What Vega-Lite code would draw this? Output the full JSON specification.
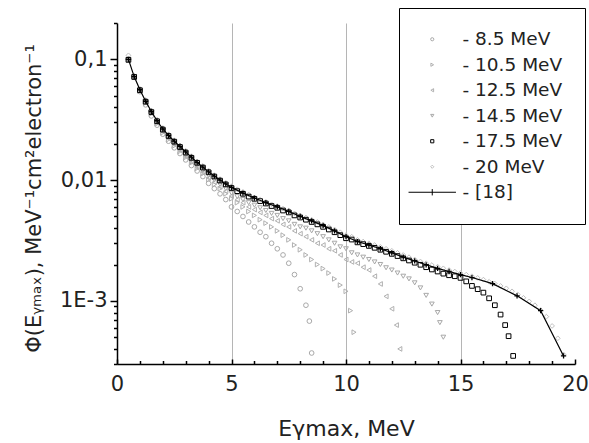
{
"$schema":"https://vega.github.io/schema/vega-lite/v6.json",
"width":458,"height":341,
"autosize":{"type":"none"},
"padding":{"left":117,"top":23,"right":14,"bottom":79},
"background":"white",
"config":{"view":{"stroke":null}},
"data":{"values":[
{"s":"- 8.5 MeV","x":0.5,"y":0.1},{"s":"- 8.5 MeV","x":0.75,"y":0.071},{"s":"- 8.5 MeV","x":1.0,"y":0.054},{"s":"- 8.5 MeV","x":1.25,"y":0.042},{"s":"- 8.5 MeV","x":1.5,"y":0.034},{"s":"- 8.5 MeV","x":1.75,"y":0.0285},{"s":"- 8.5 MeV","x":2.0,"y":0.024},{"s":"- 8.5 MeV","x":2.25,"y":0.021},{"s":"- 8.5 MeV","x":2.5,"y":0.0185},{"s":"- 8.5 MeV","x":2.75,"y":0.0166},{"s":"- 8.5 MeV","x":3.0,"y":0.0147},{"s":"- 8.5 MeV","x":3.25,"y":0.0132},{"s":"- 8.5 MeV","x":3.5,"y":0.0119},{"s":"- 8.5 MeV","x":3.75,"y":0.0107},{"s":"- 8.5 MeV","x":4.0,"y":0.0094},{"s":"- 8.5 MeV","x":4.25,"y":0.0085},{"s":"- 8.5 MeV","x":4.5,"y":0.0077},{"s":"- 8.5 MeV","x":4.75,"y":0.0069},{"s":"- 8.5 MeV","x":5.0,"y":0.006},{"s":"- 8.5 MeV","x":5.25,"y":0.0055},{"s":"- 8.5 MeV","x":5.5,"y":0.005},{"s":"- 8.5 MeV","x":5.75,"y":0.0045},{"s":"- 8.5 MeV","x":6.0,"y":0.0041},{"s":"- 8.5 MeV","x":6.25,"y":0.0037},{"s":"- 8.5 MeV","x":6.5,"y":0.0034},{"s":"- 8.5 MeV","x":6.75,"y":0.003},{"s":"- 8.5 MeV","x":7.0,"y":0.0027},{"s":"- 8.5 MeV","x":7.25,"y":0.0024},{"s":"- 8.5 MeV","x":7.5,"y":0.00205},{"s":"- 8.5 MeV","x":7.75,"y":0.00165},{"s":"- 8.5 MeV","x":8.0,"y":0.00126},{"s":"- 8.5 MeV","x":8.25,"y":0.00092},{"s":"- 8.5 MeV","x":8.4,"y":0.00068},{"s":"- 8.5 MeV","x":8.5,"y":0.00037},
{"s":"- 10.5 MeV","x":0.5,"y":0.1},{"s":"- 10.5 MeV","x":0.75,"y":0.0715},{"s":"- 10.5 MeV","x":1.0,"y":0.0545},{"s":"- 10.5 MeV","x":1.25,"y":0.0435},{"s":"- 10.5 MeV","x":1.5,"y":0.0354},{"s":"- 10.5 MeV","x":1.75,"y":0.0293},{"s":"- 10.5 MeV","x":2.0,"y":0.0247},{"s":"- 10.5 MeV","x":2.25,"y":0.0217},{"s":"- 10.5 MeV","x":2.5,"y":0.0192},{"s":"- 10.5 MeV","x":2.75,"y":0.0173},{"s":"- 10.5 MeV","x":3.0,"y":0.0154},{"s":"- 10.5 MeV","x":3.25,"y":0.0139},{"s":"- 10.5 MeV","x":3.5,"y":0.0125},{"s":"- 10.5 MeV","x":3.75,"y":0.0113},{"s":"- 10.5 MeV","x":4.0,"y":0.0101},{"s":"- 10.5 MeV","x":4.25,"y":0.0092},{"s":"- 10.5 MeV","x":4.5,"y":0.0085},{"s":"- 10.5 MeV","x":4.75,"y":0.0077},{"s":"- 10.5 MeV","x":5.0,"y":0.007},{"s":"- 10.5 MeV","x":5.25,"y":0.0065},{"s":"- 10.5 MeV","x":5.5,"y":0.006},{"s":"- 10.5 MeV","x":5.75,"y":0.0055},{"s":"- 10.5 MeV","x":6.0,"y":0.0051},{"s":"- 10.5 MeV","x":6.25,"y":0.0047},{"s":"- 10.5 MeV","x":6.5,"y":0.0044},{"s":"- 10.5 MeV","x":6.75,"y":0.0041},{"s":"- 10.5 MeV","x":7.0,"y":0.0038},{"s":"- 10.5 MeV","x":7.25,"y":0.0035},{"s":"- 10.5 MeV","x":7.5,"y":0.0032},{"s":"- 10.5 MeV","x":7.75,"y":0.0029},{"s":"- 10.5 MeV","x":8.0,"y":0.00265},{"s":"- 10.5 MeV","x":8.25,"y":0.0024},{"s":"- 10.5 MeV","x":8.5,"y":0.0022},{"s":"- 10.5 MeV","x":8.75,"y":0.002},{"s":"- 10.5 MeV","x":9.0,"y":0.00185},{"s":"- 10.5 MeV","x":9.25,"y":0.0017},{"s":"- 10.5 MeV","x":9.5,"y":0.00152},{"s":"- 10.5 MeV","x":9.75,"y":0.00135},{"s":"- 10.5 MeV","x":10.0,"y":0.0012},{"s":"- 10.5 MeV","x":10.2,"y":0.00083},{"s":"- 10.5 MeV","x":10.35,"y":0.00055},
{"s":"- 12.5 MeV","x":0.5,"y":0.1},{"s":"- 12.5 MeV","x":0.75,"y":0.0718},{"s":"- 12.5 MeV","x":1.0,"y":0.0549},{"s":"- 12.5 MeV","x":1.25,"y":0.0439},{"s":"- 12.5 MeV","x":1.5,"y":0.0358},{"s":"- 12.5 MeV","x":1.75,"y":0.0298},{"s":"- 12.5 MeV","x":2.0,"y":0.0252},{"s":"- 12.5 MeV","x":2.25,"y":0.0222},{"s":"- 12.5 MeV","x":2.5,"y":0.0197},{"s":"- 12.5 MeV","x":2.75,"y":0.0177},{"s":"- 12.5 MeV","x":3.0,"y":0.0157},{"s":"- 12.5 MeV","x":3.25,"y":0.0142},{"s":"- 12.5 MeV","x":3.5,"y":0.0128},{"s":"- 12.5 MeV","x":3.75,"y":0.0116},{"s":"- 12.5 MeV","x":4.0,"y":0.0104},{"s":"- 12.5 MeV","x":4.25,"y":0.0096},{"s":"- 12.5 MeV","x":4.5,"y":0.0088},{"s":"- 12.5 MeV","x":4.75,"y":0.0081},{"s":"- 12.5 MeV","x":5.0,"y":0.0074},{"s":"- 12.5 MeV","x":5.25,"y":0.0069},{"s":"- 12.5 MeV","x":5.5,"y":0.0065},{"s":"- 12.5 MeV","x":5.75,"y":0.006},{"s":"- 12.5 MeV","x":6.0,"y":0.0057},{"s":"- 12.5 MeV","x":6.25,"y":0.0054},{"s":"- 12.5 MeV","x":6.5,"y":0.0051},{"s":"- 12.5 MeV","x":6.75,"y":0.0048},{"s":"- 12.5 MeV","x":7.0,"y":0.0046},{"s":"- 12.5 MeV","x":7.25,"y":0.0043},{"s":"- 12.5 MeV","x":7.5,"y":0.0041},{"s":"- 12.5 MeV","x":7.75,"y":0.0038},{"s":"- 12.5 MeV","x":8.0,"y":0.0036},{"s":"- 12.5 MeV","x":8.25,"y":0.0034},{"s":"- 12.5 MeV","x":8.5,"y":0.0032},{"s":"- 12.5 MeV","x":8.75,"y":0.003},{"s":"- 12.5 MeV","x":9.0,"y":0.0029},{"s":"- 12.5 MeV","x":9.25,"y":0.0027},{"s":"- 12.5 MeV","x":9.5,"y":0.0026},{"s":"- 12.5 MeV","x":9.75,"y":0.0024},{"s":"- 12.5 MeV","x":10.0,"y":0.0022},{"s":"- 12.5 MeV","x":10.25,"y":0.0021},{"s":"- 12.5 MeV","x":10.5,"y":0.00205},{"s":"- 12.5 MeV","x":10.75,"y":0.0019},{"s":"- 12.5 MeV","x":11.0,"y":0.0018},{"s":"- 12.5 MeV","x":11.25,"y":0.0016},{"s":"- 12.5 MeV","x":11.5,"y":0.00138},{"s":"- 12.5 MeV","x":11.75,"y":0.00109},{"s":"- 12.5 MeV","x":12.0,"y":0.00086},{"s":"- 12.5 MeV","x":12.2,"y":0.00063},{"s":"- 12.5 MeV","x":12.35,"y":0.0004},
{"s":"- 14.5 MeV","x":0.5,"y":0.1},{"s":"- 14.5 MeV","x":0.75,"y":0.072},{"s":"- 14.5 MeV","x":1.0,"y":0.0554},{"s":"- 14.5 MeV","x":1.25,"y":0.0444},{"s":"- 14.5 MeV","x":1.5,"y":0.0363},{"s":"- 14.5 MeV","x":1.75,"y":0.0302},{"s":"- 14.5 MeV","x":2.0,"y":0.0257},{"s":"- 14.5 MeV","x":2.25,"y":0.0227},{"s":"- 14.5 MeV","x":2.5,"y":0.0202},{"s":"- 14.5 MeV","x":2.75,"y":0.0182},{"s":"- 14.5 MeV","x":3.0,"y":0.0162},{"s":"- 14.5 MeV","x":3.25,"y":0.0147},{"s":"- 14.5 MeV","x":3.5,"y":0.0132},{"s":"- 14.5 MeV","x":3.75,"y":0.012},{"s":"- 14.5 MeV","x":4.0,"y":0.0109},{"s":"- 14.5 MeV","x":4.25,"y":0.01},{"s":"- 14.5 MeV","x":4.5,"y":0.0092},{"s":"- 14.5 MeV","x":4.75,"y":0.0085},{"s":"- 14.5 MeV","x":5.0,"y":0.0078},{"s":"- 14.5 MeV","x":5.25,"y":0.0073},{"s":"- 14.5 MeV","x":5.5,"y":0.0069},{"s":"- 14.5 MeV","x":5.75,"y":0.0065},{"s":"- 14.5 MeV","x":6.0,"y":0.0062},{"s":"- 14.5 MeV","x":6.25,"y":0.0059},{"s":"- 14.5 MeV","x":6.5,"y":0.0056},{"s":"- 14.5 MeV","x":6.75,"y":0.0053},{"s":"- 14.5 MeV","x":7.0,"y":0.0051},{"s":"- 14.5 MeV","x":7.25,"y":0.0048},{"s":"- 14.5 MeV","x":7.5,"y":0.0046},{"s":"- 14.5 MeV","x":7.75,"y":0.0043},{"s":"- 14.5 MeV","x":8.0,"y":0.0041},{"s":"- 14.5 MeV","x":8.25,"y":0.004},{"s":"- 14.5 MeV","x":8.5,"y":0.0038},{"s":"- 14.5 MeV","x":8.75,"y":0.0036},{"s":"- 14.5 MeV","x":9.0,"y":0.0034},{"s":"- 14.5 MeV","x":9.25,"y":0.0032},{"s":"- 14.5 MeV","x":9.5,"y":0.003},{"s":"- 14.5 MeV","x":9.75,"y":0.0028},{"s":"- 14.5 MeV","x":10.0,"y":0.0027},{"s":"- 14.5 MeV","x":10.25,"y":0.0025},{"s":"- 14.5 MeV","x":10.5,"y":0.0024},{"s":"- 14.5 MeV","x":10.75,"y":0.0023},{"s":"- 14.5 MeV","x":11.0,"y":0.0022},{"s":"- 14.5 MeV","x":11.25,"y":0.0021},{"s":"- 14.5 MeV","x":11.5,"y":0.002},{"s":"- 14.5 MeV","x":11.75,"y":0.00188},{"s":"- 14.5 MeV","x":12.0,"y":0.0018},{"s":"- 14.5 MeV","x":12.25,"y":0.0017},{"s":"- 14.5 MeV","x":12.5,"y":0.0016},{"s":"- 14.5 MeV","x":12.75,"y":0.00152},{"s":"- 14.5 MeV","x":13.0,"y":0.00141},{"s":"- 14.5 MeV","x":13.25,"y":0.00128},{"s":"- 14.5 MeV","x":13.5,"y":0.00111},{"s":"- 14.5 MeV","x":13.75,"y":0.00094},{"s":"- 14.5 MeV","x":14.0,"y":0.0008},{"s":"- 14.5 MeV","x":14.1,"y":0.00066},{"s":"- 14.5 MeV","x":14.25,"y":0.0005},
{"s":"- 20 MeV","x":0.5,"y":0.108},{"s":"- 20 MeV","x":0.75,"y":0.0735},{"s":"- 20 MeV","x":1.0,"y":0.057},{"s":"- 20 MeV","x":1.25,"y":0.046},{"s":"- 20 MeV","x":1.5,"y":0.0378},{"s":"- 20 MeV","x":1.75,"y":0.0317},{"s":"- 20 MeV","x":2.0,"y":0.027},{"s":"- 20 MeV","x":2.25,"y":0.024},{"s":"- 20 MeV","x":2.5,"y":0.0214},{"s":"- 20 MeV","x":2.75,"y":0.0194},{"s":"- 20 MeV","x":3.0,"y":0.0175},{"s":"- 20 MeV","x":3.25,"y":0.0158},{"s":"- 20 MeV","x":3.5,"y":0.0143},{"s":"- 20 MeV","x":3.75,"y":0.0131},{"s":"- 20 MeV","x":4.0,"y":0.012},{"s":"- 20 MeV","x":4.25,"y":0.011},{"s":"- 20 MeV","x":4.5,"y":0.0102},{"s":"- 20 MeV","x":4.75,"y":0.0095},{"s":"- 20 MeV","x":5.0,"y":0.0089},{"s":"- 20 MeV","x":5.25,"y":0.0084},{"s":"- 20 MeV","x":5.5,"y":0.008},{"s":"- 20 MeV","x":5.75,"y":0.0076},{"s":"- 20 MeV","x":6.0,"y":0.0072},{"s":"- 20 MeV","x":6.25,"y":0.0069},{"s":"- 20 MeV","x":6.5,"y":0.0066},{"s":"- 20 MeV","x":6.75,"y":0.0063},{"s":"- 20 MeV","x":7.0,"y":0.0061},{"s":"- 20 MeV","x":7.25,"y":0.0058},{"s":"- 20 MeV","x":7.5,"y":0.0056},{"s":"- 20 MeV","x":7.75,"y":0.0053},{"s":"- 20 MeV","x":8.0,"y":0.0051},{"s":"- 20 MeV","x":8.25,"y":0.0049},{"s":"- 20 MeV","x":8.5,"y":0.0047},{"s":"- 20 MeV","x":8.75,"y":0.0045},{"s":"- 20 MeV","x":9.0,"y":0.0043},{"s":"- 20 MeV","x":9.25,"y":0.0041},{"s":"- 20 MeV","x":9.5,"y":0.0039},{"s":"- 20 MeV","x":9.75,"y":0.0037},{"s":"- 20 MeV","x":10.0,"y":0.0035},{"s":"- 20 MeV","x":10.25,"y":0.0034},{"s":"- 20 MeV","x":10.5,"y":0.0032},{"s":"- 20 MeV","x":10.75,"y":0.0031},{"s":"- 20 MeV","x":11.0,"y":0.003},{"s":"- 20 MeV","x":11.25,"y":0.0029},{"s":"- 20 MeV","x":11.5,"y":0.0028},{"s":"- 20 MeV","x":11.75,"y":0.0027},{"s":"- 20 MeV","x":12.0,"y":0.0026},{"s":"- 20 MeV","x":12.25,"y":0.0025},{"s":"- 20 MeV","x":12.5,"y":0.0024},{"s":"- 20 MeV","x":12.75,"y":0.0023},{"s":"- 20 MeV","x":13.0,"y":0.0022},{"s":"- 20 MeV","x":13.25,"y":0.00212},{"s":"- 20 MeV","x":13.5,"y":0.00205},{"s":"- 20 MeV","x":13.75,"y":0.00198},{"s":"- 20 MeV","x":14.0,"y":0.00192},{"s":"- 20 MeV","x":14.25,"y":0.00186},{"s":"- 20 MeV","x":14.5,"y":0.0018},{"s":"- 20 MeV","x":14.75,"y":0.00175},{"s":"- 20 MeV","x":15.0,"y":0.0017},{"s":"- 20 MeV","x":15.25,"y":0.00165},{"s":"- 20 MeV","x":15.5,"y":0.0016},{"s":"- 20 MeV","x":15.75,"y":0.00155},{"s":"- 20 MeV","x":16.0,"y":0.0015},{"s":"- 20 MeV","x":16.25,"y":0.00144},{"s":"- 20 MeV","x":16.5,"y":0.00139},{"s":"- 20 MeV","x":16.75,"y":0.00133},{"s":"- 20 MeV","x":17.0,"y":0.00127},{"s":"- 20 MeV","x":17.25,"y":0.0012},{"s":"- 20 MeV","x":17.5,"y":0.00113},{"s":"- 20 MeV","x":17.75,"y":0.00106},{"s":"- 20 MeV","x":18.0,"y":0.00099},{"s":"- 20 MeV","x":18.25,"y":0.00092},{"s":"- 20 MeV","x":18.5,"y":0.00084},{"s":"- 20 MeV","x":18.75,"y":0.00074},{"s":"- 20 MeV","x":19.0,"y":0.00062},{"s":"- 20 MeV","x":19.25,"y":0.00049},{"s":"- 20 MeV","x":19.5,"y":0.00036},
{"s":"- 17.5 MeV","x":0.5,"y":0.099},{"s":"- 17.5 MeV","x":0.75,"y":0.0715},{"s":"- 17.5 MeV","x":1.0,"y":0.0555},{"s":"- 17.5 MeV","x":1.25,"y":0.0446},{"s":"- 17.5 MeV","x":1.5,"y":0.0366},{"s":"- 17.5 MeV","x":1.75,"y":0.0307},{"s":"- 17.5 MeV","x":2.0,"y":0.0262},{"s":"- 17.5 MeV","x":2.25,"y":0.0232},{"s":"- 17.5 MeV","x":2.5,"y":0.0208},{"s":"- 17.5 MeV","x":2.75,"y":0.0188},{"s":"- 17.5 MeV","x":3.0,"y":0.0169},{"s":"- 17.5 MeV","x":3.25,"y":0.0153},{"s":"- 17.5 MeV","x":3.5,"y":0.0139},{"s":"- 17.5 MeV","x":3.75,"y":0.0127},{"s":"- 17.5 MeV","x":4.0,"y":0.0116},{"s":"- 17.5 MeV","x":4.25,"y":0.0107},{"s":"- 17.5 MeV","x":4.5,"y":0.0099},{"s":"- 17.5 MeV","x":4.75,"y":0.0092},{"s":"- 17.5 MeV","x":5.0,"y":0.0086},{"s":"- 17.5 MeV","x":5.25,"y":0.0081},{"s":"- 17.5 MeV","x":5.5,"y":0.0077},{"s":"- 17.5 MeV","x":5.75,"y":0.0073},{"s":"- 17.5 MeV","x":6.0,"y":0.007},{"s":"- 17.5 MeV","x":6.25,"y":0.0067},{"s":"- 17.5 MeV","x":6.5,"y":0.0064},{"s":"- 17.5 MeV","x":6.75,"y":0.0061},{"s":"- 17.5 MeV","x":7.0,"y":0.0059},{"s":"- 17.5 MeV","x":7.25,"y":0.0056},{"s":"- 17.5 MeV","x":7.5,"y":0.0054},{"s":"- 17.5 MeV","x":7.75,"y":0.0051},{"s":"- 17.5 MeV","x":8.0,"y":0.0049},{"s":"- 17.5 MeV","x":8.25,"y":0.0047},{"s":"- 17.5 MeV","x":8.5,"y":0.0045},{"s":"- 17.5 MeV","x":8.75,"y":0.0043},{"s":"- 17.5 MeV","x":9.0,"y":0.0041},{"s":"- 17.5 MeV","x":9.25,"y":0.0039},{"s":"- 17.5 MeV","x":9.5,"y":0.0037},{"s":"- 17.5 MeV","x":9.75,"y":0.0035},{"s":"- 17.5 MeV","x":10.0,"y":0.0033},{"s":"- 17.5 MeV","x":10.25,"y":0.00322},{"s":"- 17.5 MeV","x":10.5,"y":0.00305},{"s":"- 17.5 MeV","x":10.75,"y":0.00295},{"s":"- 17.5 MeV","x":11.0,"y":0.00285},{"s":"- 17.5 MeV","x":11.25,"y":0.00275},{"s":"- 17.5 MeV","x":11.5,"y":0.00265},{"s":"- 17.5 MeV","x":11.75,"y":0.00255},{"s":"- 17.5 MeV","x":12.0,"y":0.00245},{"s":"- 17.5 MeV","x":12.25,"y":0.00235},{"s":"- 17.5 MeV","x":12.5,"y":0.00225},{"s":"- 17.5 MeV","x":12.75,"y":0.00216},{"s":"- 17.5 MeV","x":13.0,"y":0.00207},{"s":"- 17.5 MeV","x":13.25,"y":0.00199},{"s":"- 17.5 MeV","x":13.5,"y":0.0019},{"s":"- 17.5 MeV","x":13.75,"y":0.00182},{"s":"- 17.5 MeV","x":14.0,"y":0.00175},{"s":"- 17.5 MeV","x":14.25,"y":0.00168},{"s":"- 17.5 MeV","x":14.5,"y":0.00163},{"s":"- 17.5 MeV","x":14.75,"y":0.0016},{"s":"- 17.5 MeV","x":15.0,"y":0.00155},{"s":"- 17.5 MeV","x":15.25,"y":0.00145},{"s":"- 17.5 MeV","x":15.5,"y":0.00133},{"s":"- 17.5 MeV","x":15.75,"y":0.00125},{"s":"- 17.5 MeV","x":16.0,"y":0.00117},{"s":"- 17.5 MeV","x":16.25,"y":0.00105},{"s":"- 17.5 MeV","x":16.5,"y":0.00092},{"s":"- 17.5 MeV","x":16.75,"y":0.00077},{"s":"- 17.5 MeV","x":16.95,"y":0.00063},{"s":"- 17.5 MeV","x":17.1,"y":0.00051},{"s":"- 17.5 MeV","x":17.3,"y":0.00035},
{"s":"- [18]","x":0.5,"y":0.1},{"s":"- [18]","x":0.75,"y":0.072},{"s":"- [18]","x":1.0,"y":0.056},{"s":"- [18]","x":1.25,"y":0.045},{"s":"- [18]","x":1.5,"y":0.037},{"s":"- [18]","x":1.75,"y":0.031},{"s":"- [18]","x":2.0,"y":0.0265},{"s":"- [18]","x":2.25,"y":0.0235},{"s":"- [18]","x":2.5,"y":0.021},{"s":"- [18]","x":2.75,"y":0.019},{"s":"- [18]","x":3.0,"y":0.0171},{"s":"- [18]","x":3.25,"y":0.0155},{"s":"- [18]","x":3.5,"y":0.014},{"s":"- [18]","x":3.75,"y":0.0128},{"s":"- [18]","x":4.0,"y":0.0117},{"s":"- [18]","x":4.25,"y":0.0108},{"s":"- [18]","x":4.5,"y":0.01},{"s":"- [18]","x":4.75,"y":0.0093},{"s":"- [18]","x":5.0,"y":0.0087},{"s":"- [18]","x":5.5,"y":0.0078},{"s":"- [18]","x":6.0,"y":0.0071},{"s":"- [18]","x":6.5,"y":0.0065},{"s":"- [18]","x":7.0,"y":0.006},{"s":"- [18]","x":7.5,"y":0.0055},{"s":"- [18]","x":8.0,"y":0.005},{"s":"- [18]","x":8.5,"y":0.0046},{"s":"- [18]","x":9.0,"y":0.0042},{"s":"- [18]","x":9.5,"y":0.0038},{"s":"- [18]","x":10.0,"y":0.0034},{"s":"- [18]","x":10.5,"y":0.0031},{"s":"- [18]","x":11.0,"y":0.0029},{"s":"- [18]","x":11.5,"y":0.0027},{"s":"- [18]","x":12.0,"y":0.0025},{"s":"- [18]","x":12.5,"y":0.0023},{"s":"- [18]","x":13.0,"y":0.00214},{"s":"- [18]","x":13.5,"y":0.00199},{"s":"- [18]","x":14.0,"y":0.00186},{"s":"- [18]","x":14.5,"y":0.00175},{"s":"- [18]","x":15.0,"y":0.00165},{"s":"- [18]","x":15.5,"y":0.00156},{"s":"- [18]","x":16.4,"y":0.00139},{"s":"- [18]","x":17.47,"y":0.0011},{"s":"- [18]","x":18.5,"y":0.00083},{"s":"- [18]","x":19.5,"y":0.00035}
]},
"encoding":{
  "x":{"field":"x","type":"quantitative","scale":{"domain":[0,20],"nice":false,"zero":false},
   "axis":{"title":"Eγmax, MeV","values":[0,1,2,3,4,5,6,7,8,9,10,11,12,13,14,15,16,17,18,19,20],
    "labelExpr":"datum.value % 5 == 0 ? format(datum.value, 'd') : ''",
    "labelFlush":false,"labelOverlap":false,"labelFont":"DejaVu Sans","labelFontSize":21,"labelColor":"#222","labelPadding":14,
    "ticks":true,"tickSize":{"condition":{"test":"datum.value % 5 == 0","value":-5},"value":-3.5},"tickColor":"black","tickWidth":1.5,
    "domainColor":"black","domainWidth":1.5,
    "grid":true,"gridColor":"#b5b5b5","gridWidth":1,
    "gridOpacity":{"condition":{"test":"datum.value == 5 || datum.value == 10 || datum.value == 15","value":1},"value":0},
    "titleFont":"DejaVu Sans","titleFontSize":22,"titleFontWeight":"normal","titleColor":"#222","titleY":71,"titleBaseline":"alphabetic"}},
  "y":{"field":"y","type":"quantitative","scale":{"type":"log","domain":[0.0003,0.2],"nice":false},
   "axis":{"title":"Φ(Eᵧₘₐₓ), MeV⁻¹cm²electron⁻¹",
    "values":[0.0003,0.0004,0.0005,0.0006,0.0007,0.0008,0.0009,0.001,0.002,0.003,0.004,0.005,0.006,0.007,0.008,0.009,0.01,0.02,0.03,0.04,0.05,0.06,0.07,0.08,0.09,0.1,0.2],
    "labelExpr":"datum.value == 0.1 ? '0,1' : datum.value == 0.01 ? '0,01' : datum.value == 0.001 ? '1E-3' : ''",
    "labelFlush":false,"labelOverlap":false,"labelFont":"DejaVu Sans","labelFontSize":21,"labelColor":"#222","labelPadding":3,
    "ticks":true,"tickSize":{"condition":{"test":"datum.value == 0.1 || datum.value == 0.01 || datum.value == 0.001","value":7},"value":3.5},"tickColor":"black","tickWidth":1.5,
    "domainColor":"black","domainWidth":1.5,"grid":false,
    "titleFont":"DejaVu Sans","titleFontSize":21,"titleFontWeight":"normal","titleColor":"#222","titleX":-77,"titleY":175,"titleBaseline":"alphabetic"}}
},
"layer":[
{"transform":[{"filter":"datum.s != '- [18]'"}],
 "mark":{"type":"point","filled":false,"size":22,"strokeWidth":1,"opacity":1},
 "encoding":{
  "color":{"field":"s","type":"nominal",
   "scale":{"domain":["- 8.5 MeV","- 10.5 MeV","- 12.5 MeV","- 14.5 MeV","- 17.5 MeV","- 20 MeV","- [18]"],
            "range":["#a9a9a9","#b0b0b0","#b0b0b0","#a8a8a8","#000000","#c0c0c0","#000000"]},
   "legend":{"orient":"none","legendX":282,"legendY":-15,"title":null,"padding":22,"rowPadding":6.5,"symbolSize":10,"symbolStrokeWidth":1,
     "labelFont":"DejaVu Sans","labelFontSize":18.5,"labelColor":"#222","labelLimit":200,"strokeColor":"black","fillColor":"white","symbolOffset":2,"labelOffset":21,
     "encode":{"legend":{"update":{"strokeWidth":{"value":1.5}}}}}},
  "shape":{"field":"s","type":"nominal",
   "scale":{"domain":["- 8.5 MeV","- 10.5 MeV","- 12.5 MeV","- 14.5 MeV","- 17.5 MeV","- 20 MeV","- [18]"],
            "range":["circle","triangle-right","triangle-left","triangle-down","square","diamond","M-15,0H15M0,-2V2"]},
   "legend":{"orient":"none","legendX":282,"legendY":-15,"title":null,"padding":22,"rowPadding":6.5,"symbolSize":10,"symbolStrokeWidth":1,
     "labelFont":"DejaVu Sans","labelFontSize":18.5,"labelColor":"#222","labelLimit":200,"strokeColor":"black","fillColor":"white","symbolOffset":2,"labelOffset":21,
     "encode":{"legend":{"update":{"strokeWidth":{"value":1.5}}}}}}
 }},
{"transform":[{"filter":"datum.s == '- [18]'"}],
 "mark":{"type":"line","color":"black","strokeWidth":1.2},
 "encoding":{}},
{"transform":[{"filter":"datum.s == '- [18]'"}],
 "mark":{"type":"point","shape":"M-1,0H1M0,-1V1","size":28,"filled":false,"stroke":"black","strokeWidth":1.3,"opacity":1},
 "encoding":{}}
]
}
